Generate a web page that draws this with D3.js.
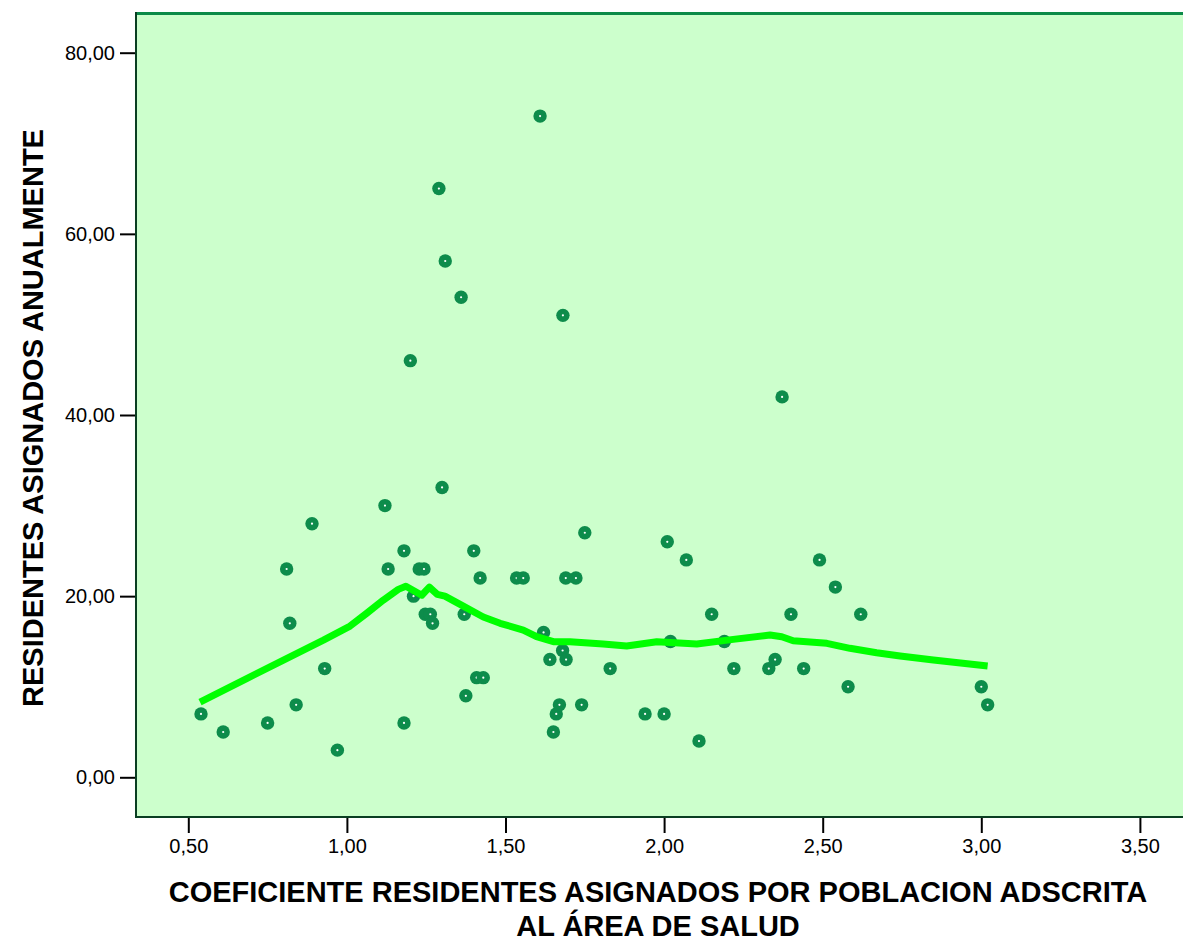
<!DOCTYPE html>
<html>
<head>
<meta charset="utf-8">
<script src="https://cdn.jsdelivr.net/npm/d3@7"></script>
<style>
  html, body { margin: 0; padding: 0; background: #ffffff; }
  svg { display: block; }
  text { font-family: "Liberation Sans", Arial, sans-serif; }
</style>
</head>
<body>
<svg id="chart" width="1183" height="942"></svg>
<script>
// Coeficiente de residentes por población adscrita (x) y residentes asignados al año (y)
const coefX = [0.54, 0.61, 0.75, 0.81, 0.82, 0.84, 0.89, 0.93, 0.97, 1.12, 1.13, 1.18, 1.18, 1.20, 1.21,
  1.228, 1.243, 1.247, 1.263, 1.27, 1.29, 1.30, 1.31, 1.36, 1.37, 1.375, 1.40, 1.409, 1.43, 1.42,
  1.535, 1.556, 1.609, 1.62, 1.64, 1.651, 1.66, 1.67, 1.68, 1.681, 1.69, 1.691, 1.722, 1.74, 1.75,
  1.83, 1.94, 2.00, 2.01, 2.02, 2.07, 2.11, 2.15, 2.19, 2.22, 2.33, 2.35, 2.372, 2.40, 2.44,
  2.49, 2.54, 2.58, 2.62, 3.00, 3.02];
const residentesY = [7, 5, 6, 23, 17, 8, 28, 12, 3, 30, 23, 25, 6, 46, 20,
  23, 23, 18, 18, 17, 65, 32, 57, 53, 18, 9, 25, 11, 11, 22,
  22, 22, 73, 16, 13, 5, 7, 8, 14, 51, 22, 13, 22, 8, 27,
  12, 7, 7, 26, 15, 24, 4, 18, 15, 12, 12, 13, 42, 18, 12,
  24, 21, 10, 18, 10, 8];

// Curva de ajuste suavizada
const ajusteX = [0.537, 0.684, 0.80, 0.926, 1.01, 1.062, 1.115, 1.162, 1.186, 1.236, 1.26, 1.285,
  1.309, 1.367, 1.43, 1.483, 1.556, 1.598, 1.651, 1.703, 1.808, 1.882, 1.977, 2.103, 2.218,
  2.334, 2.371, 2.407, 2.513, 2.586, 2.67, 2.744, 2.849, 3.02];
const ajusteY = [8.3, 10.9, 12.95, 15.15, 16.7, 18.1, 19.57, 20.75, 21.1, 20.1, 21.0, 20.2,
  20.0, 18.9, 17.7, 17.0, 16.26, 15.52, 14.97, 14.97, 14.71, 14.49, 14.97, 14.71, 15.23,
  15.71, 15.52, 15.08, 14.79, 14.24, 13.75, 13.39, 12.95, 12.28];

const xTicks = [0.5, 1.0, 1.5, 2.0, 2.5, 3.0, 3.5];
const yTicks = [0, 20, 40, 60, 80];

const svg = d3.select("#chart");
const plot = { left: 135, top: 12, right: 1190, bottom: 818 };

const x = d3.scaleLinear().domain([0.5, 3.0]).range([188.3, 981.3]);
const y = d3.scaleLinear().domain([0, 80]).range([777.3, 52.7]);

const fmt = v => d3.format(".2f")(v).replace(".", ",");

// Fondo del área de trazado
svg.append("rect")
  .attr("x", plot.left).attr("y", plot.top)
  .attr("width", plot.right - plot.left).attr("height", plot.bottom - plot.top)
  .attr("fill", "#ccffcc");

// Bordes del marco
svg.append("line").attr("x1", plot.left).attr("x2", plot.right)
  .attr("y1", plot.top + 1.5).attr("y2", plot.top + 1.5)
  .attr("stroke", "#0b8a48").attr("stroke-width", 3);
svg.append("line").attr("x1", plot.left + 1).attr("x2", plot.left + 1)
  .attr("y1", plot.top).attr("y2", plot.bottom)
  .attr("stroke", "#0a3f22").attr("stroke-width", 2);
svg.append("line").attr("x1", plot.left).attr("x2", plot.right)
  .attr("y1", plot.bottom - 1).attr("y2", plot.bottom - 1)
  .attr("stroke", "#0a3f22").attr("stroke-width", 2);

// Ejes
const xAxis = d3.axisBottom(x).tickValues(xTicks).tickFormat(fmt).tickSize(15).tickPadding(6);
const gx = svg.append("g").attr("transform", `translate(0,${plot.bottom})`).call(xAxis);
gx.select(".domain").remove();
gx.selectAll(".tick line").attr("stroke", "#000").attr("stroke-width", 2);
gx.selectAll(".tick text").attr("font-size", 20).attr("fill", "#000")
  .attr("font-family", "'Liberation Sans', Arial, sans-serif");

const yAxis = d3.axisLeft(y).tickValues(yTicks).tickFormat(fmt).tickSize(15).tickPadding(5);
const gy = svg.append("g").attr("transform", `translate(${plot.left},0)`).call(yAxis);
gy.select(".domain").remove();
gy.selectAll(".tick line").attr("stroke", "#000").attr("stroke-width", 2);
gy.selectAll(".tick text").attr("font-size", 20).attr("fill", "#000")
  .attr("font-family", "'Liberation Sans', Arial, sans-serif");

// Puntos
const pts = coefX.map((v, i) => ({ x: v, y: residentesY[i] }));
const gp = svg.append("g");
pts.forEach(d => {
  gp.append("circle").attr("cx", x(d.x)).attr("cy", y(d.y)).attr("r", 6.7).attr("fill", "#0d8c4b");
  gp.append("circle").attr("cx", x(d.x)).attr("cy", y(d.y)).attr("r", 1.1).attr("fill", "#ffffff");
});

// Línea de ajuste
const fit = ajusteX.map((v, i) => [v, ajusteY[i]]);
svg.append("path")
  .datum(fit)
  .attr("d", d3.line().x(d => x(d[0])).y(d => y(d[1])))
  .attr("fill", "none")
  .attr("stroke", "#00ff00")
  .attr("stroke-width", 7)
  .attr("stroke-linejoin", "round");

// Títulos de los ejes
svg.append("text")
  .attr("x", 658).attr("y", 902)
  .attr("text-anchor", "middle").attr("font-size", 29).attr("font-weight", "bold")
  .text("COEFICIENTE RESIDENTES ASIGNADOS POR POBLACION ADSCRITA");
svg.append("text")
  .attr("x", 658).attr("y", 936)
  .attr("text-anchor", "middle").attr("font-size", 29).attr("font-weight", "bold")
  .text("AL ÁREA DE SALUD");
svg.append("text")
  .attr("transform", "translate(43,418) rotate(-90)")
  .attr("text-anchor", "middle").attr("font-size", 29).attr("font-weight", "bold")
  .text("RESIDENTES ASIGNADOS ANUALMENTE");
</script>
</body>
</html>
